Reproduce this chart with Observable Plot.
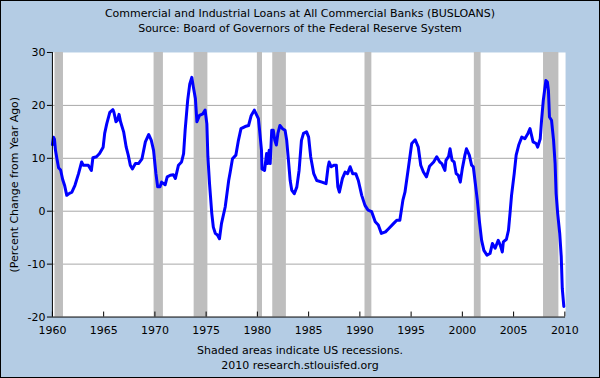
<!DOCTYPE html>
<html><head><meta charset="utf-8">
<script src="https://cdn.jsdelivr.net/npm/d3@7"></script>
<script src="https://cdn.jsdelivr.net/npm/@observablehq/plot@0.6"></script>
<style>
html,body{margin:0;padding:0;background:#fff;}
#wrap{position:relative;width:600px;height:378px;box-sizing:border-box;border:1px solid #000;background:#b4cce4;font-family:"DejaVu Sans",sans-serif;color:#000;overflow:hidden;}
.t{position:absolute;left:0;width:100%;text-align:center;font-size:11px;line-height:15px;white-space:nowrap;}
#chart{position:absolute;left:-1px;top:39px;}
</style></head>
<body><div id="wrap">
<div class="t" style="top:5px">Commercial and Industrial Loans at All Commercial Banks (BUSLOANS)</div>
<div class="t" style="top:20px">Source: Board of Governors of the Federal Reserve System</div>
<div id="chart"></div>
<div class="t" style="top:342px">Shaded areas indicate US recessions.</div>
<div class="t" style="top:357px">2010 research.stlouisfed.org</div>
</div>
<script>
const dates = [1960.0,1960.1,1960.2,1960.3,1960.45,1960.6,1960.8,1961.0,1961.2,1961.4,1961.6,1961.9,1962.2,1962.55,1962.85,1963.0,1963.5,1963.8,1963.95,1964.3,1964.6,1964.95,1965.1,1965.3,1965.6,1965.9,1966.0,1966.2,1966.35,1966.5,1966.65,1966.95,1967.2,1967.4,1967.6,1967.8,1968.1,1968.4,1968.74,1969.07,1969.4,1969.65,1969.87,1970.1,1970.27,1970.5,1970.65,1971.0,1971.2,1971.5,1971.8,1972.0,1972.3,1972.6,1972.8,1972.95,1973.2,1973.4,1973.6,1973.75,1973.95,1974.1,1974.35,1974.68,1974.9,1975.07,1975.17,1975.33,1975.55,1975.7,1975.9,1976.1,1976.3,1976.5,1976.86,1977.2,1977.35,1977.57,1977.9,1978.15,1978.4,1978.8,1979.14,1979.4,1979.7,1980.1,1980.2,1980.4,1980.45,1980.7,1980.9,1981.0,1981.15,1981.25,1981.4,1981.55,1981.7,1981.85,1982.0,1982.2,1982.45,1982.7,1982.86,1983.0,1983.2,1983.35,1983.6,1983.85,1984.07,1984.3,1984.5,1984.8,1985.0,1985.2,1985.5,1985.8,1986.3,1986.7,1986.9,1987.0,1987.2,1987.5,1987.7,1987.85,1988.0,1988.3,1988.56,1988.8,1989.05,1989.3,1989.6,1989.85,1990.18,1990.5,1990.8,1991.15,1991.5,1991.8,1992.1,1992.5,1992.8,1993.3,1993.6,1993.9,1994.2,1994.4,1994.75,1995.06,1995.4,1995.7,1995.94,1996.2,1996.5,1996.8,1997.2,1997.5,1997.8,1998.0,1998.3,1998.4,1998.65,1998.8,1999.0,1999.2,1999.4,1999.6,1999.8,2000.0,2000.25,2000.4,2000.68,2000.9,2001.07,2001.23,2001.46,2001.65,2001.88,2002.1,2002.4,2002.7,2002.93,2003.2,2003.5,2003.7,2003.9,2004.0,2004.3,2004.5,2004.65,2004.8,2005.06,2005.25,2005.5,2005.8,2006.1,2006.4,2006.6,2006.9,2007.2,2007.35,2007.6,2007.73,2007.9,2008.15,2008.3,2008.4,2008.5,2008.7,2008.9,2009.05,2009.15,2009.3,2009.5,2009.65,2009.75,2009.9];
const values = [12.6,14.0,13.6,11.5,9.8,8.2,7.8,6.0,4.8,3.0,3.3,3.6,4.9,7.1,9.3,8.7,8.7,7.7,10.1,10.3,10.9,12.1,14.7,16.5,18.7,19.2,18.7,16.9,17.2,18.3,16.9,15.0,12.1,10.6,8.7,8.0,9.0,9.0,9.9,13.1,14.5,13.4,11.5,7.1,4.6,4.6,5.5,5.0,6.5,6.8,6.9,6.2,8.7,9.3,10.9,15.3,21.0,24.0,25.3,23.5,21.3,16.9,18.1,18.4,19.1,16.5,10.3,5.2,-0.4,-3.0,-4.2,-4.5,-5.2,-2.3,0.8,5.8,7.4,9.9,10.6,13.4,15.6,16.0,16.2,18.1,19.1,17.5,15.6,11.5,8.0,7.7,10.9,9.0,11.5,9.0,15.3,15.3,13.4,12.5,14.7,16.2,15.6,15.3,13.4,10.3,5.8,4.0,3.3,4.6,7.7,13.4,14.7,15.0,14.0,10.3,7.1,5.8,5.5,5.2,8.4,9.3,8.4,8.7,8.7,4.6,3.6,6.2,7.4,7.1,8.4,7.1,7.1,5.8,3.0,1.1,0.2,-0.1,-2.0,-2.6,-4.2,-3.9,-3.3,-2.3,-1.7,-1.7,2.1,3.6,8.4,12.8,13.5,12.1,8.7,7.4,6.5,8.5,9.3,10.3,9.3,9.0,7.7,9.6,10.3,11.8,9.6,9.3,7.1,6.8,5.5,8.1,10.6,11.8,10.6,8.7,8.4,5.8,2.1,-1.7,-5.5,-7.4,-8.3,-8.0,-6.1,-7.0,-5.5,-6.4,-7.7,-5.8,-5.3,-3.6,-0.4,3.0,7.1,10.6,12.5,14.0,13.7,14.7,15.6,13.1,12.8,12.1,13.7,17.2,21.0,24.7,24.4,22.8,17.8,17.2,13.4,9.0,3.3,-0.4,-4.2,-8.6,-14.6,-18.0];
const recessionStart = [1960.25,1969.92,1973.83,1980.0,1981.5,1990.5,2001.17,2007.92];
const recessionEnd   = [1961.08,1970.83,1975.17,1980.5,1982.83,1991.17,2001.83,2009.42];
const xTicks = [1960,1965,1970,1975,1980,1985,1990,1995,2000,2005,2010];
const yTicks = [-20,-10,0,10,20,30];
const gridLines = [-10,0,10,20];

const series = dates.map((d, i) => ({date: d, value: values[i]}));
const recessions = recessionStart.map((s, i) => ({start: s, end: recessionEnd[i]}));

const chart = Plot.plot({
  width: 600, height: 300,
  marginTop: 12, marginBottom: 23, marginLeft: 52, marginRight: 34,
  style: {background: "transparent", fontFamily: "'DejaVu Sans', sans-serif", fontSize: "11px", color: "#000", overflow: "visible"},
  x: {domain: [1960, 2010.07]},
  y: {domain: [-20, 30]},
  marks: [
    Plot.frame({fill: "white", stroke: null}),
    Plot.ruleY(gridLines, {stroke: "#a8a8a8", strokeWidth: 1}),
    Plot.rectX(recessions, {x1: "start", x2: "end", fill: "#bebebe"}),
    Plot.line(series, {x: "date", y: "value", stroke: "#0000ff", strokeWidth: 3, curve: "linear"}),
    Plot.ruleX([1960], {stroke: "#000"}),
    Plot.ruleY([-20], {stroke: "#000"}),
    Plot.tickX(xTicks, {x: d => d, insetTop: 260, stroke: "#000"}),
    Plot.axisX({ticks: xTicks, tickSize: 0, tickPadding: 9, tickFormat: d => String(d), label: null}),
    Plot.axisY({ticks: yTicks, tickSize: 5, tickPadding: 2, tickFormat: d => String(d),
      label: "(Percent Change from Year Ago)", labelAnchor: "center", labelArrow: false, labelOffset: 42})
  ]
});
document.getElementById("chart").appendChild(chart);
</script>
</body></html>
